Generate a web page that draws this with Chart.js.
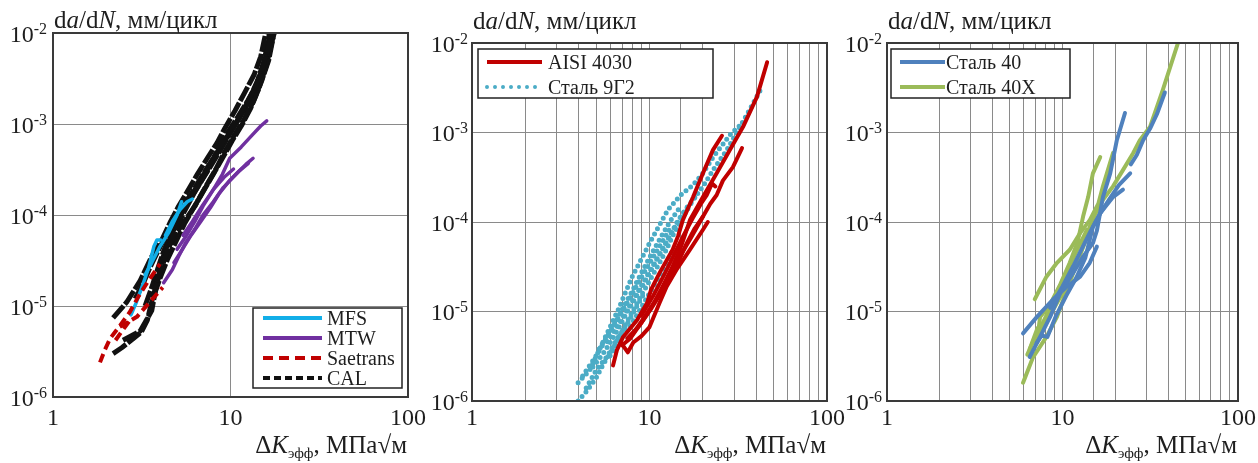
<!DOCTYPE html>
<html>
<head>
<meta charset="utf-8">
<script src="https://cdn.jsdelivr.net/npm/chart.js@4.4.1/dist/chart.umd.min.js"></script>
<style>
  body { margin: 0; background: #fff; width: 1258px; height: 463px; overflow: hidden; position: relative; }
  canvas { position: absolute; left: 0; top: 0; }
</style>
</head>
<body>
<canvas id="c1" width="1258" height="463"></canvas>
<canvas id="c2" width="1258" height="463"></canvas>
<canvas id="c3" width="1258" height="463"></canvas>
<script>
const FONT = '"Liberation Serif", "Times New Roman", serif';

// axis ticks (da/dN exponents and dK values)
const xTickVals = [1, 10, 100];
const yTickExps = [-2, -3, -4, -5, -6];

// ---- left: literature data, [dK, da/dN] ----
const mfs1 = [[2.75, 8e-6], [2.95, 1.1e-5], [3.2, 1.7e-5], [3.45, 2.6e-5], [3.7, 4.5e-5], [3.85, 5.3e-5], [4.05, 5.3e-5]];
const mfs2 = [[3.3, 2.2e-5], [3.6, 3.0e-5], [4.0, 4.5e-5], [4.5, 6.5e-5], [5.0, 1.0e-4], [5.3, 1.4e-4]];
const mfs3 = [[4.3, 6e-5], [4.7, 8.5e-5], [5.2, 1.15e-4], [5.7, 1.4e-4], [6.1, 1.5e-4]];

const mtw1 = [[4.2, 1.8e-5], [4.7, 2.5e-5], [5.1, 3.5e-5], [5.6, 5e-5], [6.3, 7e-5], [7.0, 1.0e-4], [8.0, 1.4e-4], [9.1, 2.0e-4], [10.9, 2.9e-4], [12.2, 3.6e-4], [13.4, 4.2e-4]];
const mtw2 = [[4.8, 3e-5], [5.4, 4.3e-5], [6.0, 6e-5], [6.8, 8.5e-5], [7.7, 1.2e-4], [8.6, 1.7e-4], [9.9, 2.4e-4], [11.3, 3.1e-4], [12.6, 3.7e-4]];
const mtw3 = [[5.0, 4.2e-5], [5.6, 5.8e-5], [6.3, 8.5e-5], [7.0, 1.25e-4], [8.0, 1.9e-4], [9.0, 2.8e-4], [9.9, 4.2e-4], [11.5, 5.6e-4], [13.2, 7.5e-4], [14.8, 9.5e-4], [16.0, 1.08e-3]];
const mtw4 = [[5.4, 6e-5], [6.1, 8.5e-5], [7.0, 1.3e-4], [8.0, 1.9e-4], [9.2, 2.6e-4], [10.4, 3.2e-4]];

const sae1 = [[1.84, 2.4e-6], [1.96, 3.3e-6], [2.1, 4.4e-6], [2.4, 6.2e-6], [2.7, 8.5e-6], [3.05, 1.3e-5], [3.45, 1.9e-5], [3.75, 2.4e-5], [4.0, 2.9e-5]];
const sae2 = [[2.38, 5.9e-6], [2.97, 7.6e-6], [3.5, 1.1e-5], [4.15, 1.6e-5]];
const sae3 = [[2.25, 4.2e-6], [2.5, 5.6e-6], [2.75, 7.2e-6]];

const cal1 = [[2.18, 3.0e-6], [2.45, 3.5e-6], [2.8, 4.3e-6], [3.15, 5.2e-6], [3.4, 7e-6], [3.55, 1e-5], [3.75, 1.5e-5], [4.0, 2.3e-5], [4.3, 3.5e-5], [4.6, 5e-5], [5.0, 7.5e-5], [5.5, 1.1e-4], [6.2, 1.7e-4], [7.2, 2.8e-4], [8.4, 5e-4], [9.6, 8e-4], [11.0, 1.2e-3], [12.5, 1.8e-3], [14.0, 2.7e-3], [15.2, 4.2e-3], [16.2, 6.5e-3], [17.2, 1e-2]];
const cal2 = [[2.18, 7.4e-6], [2.6, 1.1e-5], [3.1, 1.9e-5], [3.6, 3.5e-5], [4.1, 5.3e-5], [4.6, 8.5e-5], [5.1, 1.25e-4], [5.7, 1.8e-4], [6.5, 2.8e-4], [7.4, 4.2e-4], [8.4, 6.2e-4], [9.3, 9e-4], [10.6, 1.4e-3], [12.0, 2.2e-3], [13.6, 3.5e-3], [14.8, 5.5e-3], [15.8, 1e-2]];
const cal3 = [[2.48, 4.2e-6], [3.1, 5.3e-6], [3.6, 8.9e-6], [3.85, 1.8e-5], [4.1, 3e-5], [4.4, 4.6e-5], [4.8, 7e-5], [5.3, 1.05e-4], [5.9, 1.5e-4], [6.7, 2.2e-4], [7.7, 3.4e-4], [8.8, 5.2e-4], [10.0, 8e-4], [11.3, 1.2e-3], [12.8, 1.9e-3], [14.2, 3e-3], [15.5, 5e-3], [16.6, 1e-2]];
const cal4 = [[4.0, 3e-5], [4.5, 4.5e-5], [5.0, 6.5e-5], [5.6, 9e-5], [6.3, 1.25e-4], [7.2, 2e-4], [8.2, 3.1e-4], [9.2, 4.8e-4], [10.5, 7.5e-4], [12.0, 1.15e-3], [13.5, 1.8e-3], [15.0, 3e-3], [16.4, 5e-3], [17.6, 1e-2]];
const cal5 = [[2.9, 1.2e-5], [3.2, 1.7e-5], [3.5, 2.6e-5], [3.9, 4e-5], [4.3, 5.8e-5], [4.8, 8.5e-5], [5.4, 1.25e-4], [6.1, 1.8e-4], [7.0, 2.8e-4], [8.0, 4.2e-4], [9.0, 6e-4], [10.2, 8.8e-4], [11.6, 1.3e-3], [13.1, 2e-3], [14.6, 3.2e-3], [15.8, 5.2e-3], [16.9, 1e-2]];
const cal6 = [[3.3, 1.0e-5], [3.6, 1.6e-5], [3.9, 2.6e-5], [4.2, 4e-5], [4.6, 6e-5], [5.1, 9e-5], [5.7, 1.35e-4], [6.4, 2e-4], [7.3, 3.1e-4], [8.3, 4.6e-4], [9.4, 6.8e-4], [10.7, 1e-3], [12.2, 1.55e-3], [13.7, 2.4e-3], [15.0, 3.8e-3], [16.0, 6e-3], [16.8, 1e-2]];
const cal7 = [[3.7, 1.3e-5], [4.0, 2e-5], [4.4, 3.2e-5], [4.9, 5e-5], [5.5, 8e-5], [6.2, 1.2e-4], [7.0, 1.8e-4], [8.0, 2.8e-4], [9.0, 4.2e-4], [10.2, 6.5e-4], [11.5, 9.5e-4], [13.0, 1.5e-3], [14.5, 2.5e-3], [15.8, 4.2e-3], [16.8, 6.8e-3], [17.6, 1e-2]];

// ---- middle: AISI 4030 and Сталь 9Г2 ----
const aisi1 = [[6.23, 2.5e-6], [6.55, 3.7e-6], [7.1, 5.2e-6], [8.5, 8e-6], [9.7, 1.25e-5], [10.2, 1.75e-5], [11.4, 2.7e-5], [13.5, 4.9e-5], [14.5, 7e-5], [15.4, 1.05e-4], [17.6, 1.9e-4], [20.0, 3.5e-4], [22.8, 6.4e-4], [25.6, 9.2e-4]];
const aisi2 = [[6.9, 4.5e-6], [7.55, 3.5e-6], [8.1, 4.5e-6], [9.0, 5.3e-6], [10.0, 6.7e-6], [11.4, 1.25e-5], [12.5, 1.9e-5], [14.3, 3e-5], [16.9, 4.9e-5], [20.0, 8.2e-5], [21.3, 1e-4]];
const aisi3 = [[7.0, 4.2e-6], [7.8, 5.0e-6], [9.0, 7.5e-6], [10.5, 1.2e-5], [12.0, 2e-5], [13.5, 3.2e-5], [15.0, 5.2e-5], [16.9, 1.05e-4], [20.0, 1.9e-4], [23.9, 3.5e-4], [28.4, 6.4e-4], [33.6, 1.15e-3], [40.3, 2.5e-3], [46.0, 6.1e-3]];
const aisi4 = [[8.0, 5.5e-6], [9.3, 8.5e-6], [11.0, 1.4e-5], [12.5, 2.2e-5], [14.5, 3.8e-5], [17.0, 6.5e-5], [19.5, 1.05e-4], [22.0, 1.6e-4], [23.9, 2e-4], [25.9, 2.9e-4], [29.5, 4.1e-4], [33.2, 6.7e-4]];
const aisi5 = [[7.5, 5e-6], [8.8, 7e-6], [10.3, 1.1e-5], [12.0, 1.8e-5], [14.0, 3e-5], [16.0, 5.5e-5], [18.0, 8.5e-5], [20.0, 1.15e-4]];
const aisi6 = [[9.0, 9e-6], [10.5, 1.5e-5], [12.0, 2.5e-5], [13.5, 4e-5], [15.5, 7e-5], [17.5, 1.1e-4], [19.5, 1.6e-4], [21.0, 2e-4], [22.5, 2.7e-4], [23.5, 2.5e-4]];

const g9a = [[3.96, 1.0e-6], [4.44, 1.3e-6], [5.0, 1.8e-6], [5.5, 2.6e-6], [6.2, 3.8e-6], [7.0, 6e-6], [7.8, 9e-6], [8.8, 1.4e-5], [10.0, 2.2e-5], [11.4, 3.5e-5], [12.5, 5e-5], [13.5, 7e-5], [15.5, 1.15e-4], [17.6, 1.77e-4], [20.0, 2.5e-4], [22.8, 3.8e-4], [27.3, 6.4e-4], [31.0, 1e-3], [36.7, 1.8e-3], [43.0, 3.2e-3]];
const g9b = [[3.96, 1.6e-6], [4.6, 2.2e-6], [5.45, 4.5e-6], [6.64, 1.03e-5], [7.95, 2.4e-5], [10.0, 5.8e-5], [12.7, 1.37e-4], [15.0, 2e-4], [17.6, 2.6e-4], [20.0, 3.5e-4], [22.8, 5.3e-4], [28.4, 9.4e-4], [32.3, 1.2e-3]];
const g9c = [[4.8, 2.4e-6], [5.6, 3.6e-6], [6.4, 5.5e-6], [7.3, 9e-6], [8.3, 1.4e-5], [9.6, 2.3e-5], [11.0, 3.8e-5], [12.5, 6e-5], [14.0, 9e-5], [16.0, 1.4e-4], [18.5, 2e-4]];
const g9d = [[5.8, 4.6e-6], [6.8, 7.5e-6], [7.8, 1.2e-5], [8.8, 1.8e-5], [10.0, 2.8e-5], [11.5, 4.5e-5], [13.0, 7e-5], [14.5, 1.05e-4], [16.5, 1.5e-4]];
const g9e = [[4.4, 1.4e-6], [5.0, 2.2e-6], [5.8, 3.2e-6], [6.5, 4.8e-6], [7.4, 7e-6], [8.4, 1.1e-5], [9.5, 1.7e-5]];
const g9f = [[4.2, 1.9e-6], [4.9, 3e-6], [5.6, 4.6e-6], [6.3, 7e-6], [7.1, 1.1e-5], [8.0, 1.7e-5], [9.0, 2.7e-5], [10.2, 4.3e-5], [11.6, 6.8e-5], [13.2, 1.05e-4], [15.0, 1.5e-4]];
const g9g = [[5.2, 3.8e-6], [6.0, 6e-6], [6.9, 9.5e-6], [7.9, 1.5e-5], [9.0, 2.4e-5], [10.3, 3.8e-5], [11.8, 6e-5], [13.3, 9e-5]];
const g9h = [[6.0, 3.2e-6], [7.0, 5e-6], [8.0, 7.5e-6], [9.2, 1.2e-5], [10.5, 1.9e-5], [12.0, 3e-5], [13.5, 4.8e-5]];

// ---- right: Сталь 40 and Сталь 40Х ----
const s40a = [[5.96, 5.7e-6], [7.15, 8.7e-6], [8.85, 1.37e-5], [10.6, 1.9e-5], [12.6, 2.45e-5], [14.3, 3.5e-5], [15.7, 5.3e-5]];
const s40b = [[6.5, 3.1e-6], [7.45, 5.2e-6], [8.5, 8.7e-6], [9.7, 1.6e-5], [11.5, 2.7e-5], [13.1, 4.1e-5], [14.9, 5.8e-5], [15.7, 8e-5], [17.0, 1.9e-4], [18.7, 3.5e-4], [20.4, 8.2e-4], [22.7, 1.65e-3]];
const s40c = [[7.1, 4.4e-6], [7.6, 5.4e-6], [8.2, 5.2e-6], [9.2, 9e-6], [10.5, 1.5e-5], [12.0, 2.4e-5], [13.5, 4e-5], [14.9, 8.8e-5], [16.4, 1.25e-4], [19.4, 1.9e-4], [22.1, 2.3e-4]];
const s40d = [[8.5, 1.1e-5], [10.0, 1.9e-5], [11.5, 3.2e-5], [13.0, 5.2e-5], [14.5, 8e-5], [16.2, 1.2e-4], [18.5, 1.8e-4], [21.0, 2.6e-4], [24.3, 3.5e-4]];
const s40e = [[24.5, 4.4e-4], [26.5, 5.6e-4], [28.8, 8.2e-4], [31.5, 1.1e-3], [34.5, 1.6e-3], [38.3, 2.8e-3]];

const s40x1 = [[5.96, 1.6e-6], [6.8, 3.1e-6], [8.1, 5.2e-6], [9.3, 8.7e-6], [10.6, 1.75e-5], [12.1, 3.5e-5], [13.8, 6.8e-5], [14.9, 1.1e-4], [17.0, 1.77e-4], [19.4, 2.5e-4], [22.1, 3.8e-4], [25.3, 5.9e-4], [27.6, 8.2e-4], [31.5, 1.15e-3], [37.3, 3e-3], [45.5, 1e-2]];
const s40x2 = [[6.95, 1.37e-5], [8.1, 2.45e-5], [9.3, 3.5e-5], [11.0, 4.9e-5], [12.6, 7.5e-5], [14.3, 1.05e-4], [16.0, 1.6e-4], [17.0, 2.5e-4], [19.4, 5.9e-4]];
const s40x3 = [[7.15, 4.5e-6], [7.45, 8.7e-6], [8.5, 1.2e-5], [9.7, 2e-5], [11.0, 3.5e-5], [12.2, 6e-5], [13.1, 1.15e-4], [14.0, 1.9e-4], [14.9, 3.5e-4], [16.4, 5.3e-4]];
const s40x4 = [[6.3, 3.3e-6], [7.0, 5.2e-6], [7.8, 6.8e-6], [8.6, 9.5e-6], [9.8, 1.5e-5], [11.2, 2.6e-5], [12.7, 4.6e-5], [14.2, 8.5e-5], [15.5, 1.3e-4]];
const s40x5 = [[6.5, 3.8e-6], [7.2, 6.5e-6], [7.6, 7e-6], [8.3, 1.0e-5], [9.5, 1.8e-5], [10.8, 3e-5], [12.3, 5.2e-5], [13.8, 8.2e-5]];

const C = {
  mfs: '#12aee8', mtw: '#7030a0', red: '#c00000', cal: '#111111',
  teal: '#4bacc6', blue: '#4f81bd', green: '#9bbb59'
};

function line(pts, color, extra) {
  return Object.assign({
    data: pts.map(p => ({ x: p[0], y: p[1] })),
    showLine: true,
    borderColor: color,
    backgroundColor: color,
    borderWidth: 3.5,
    pointRadius: 0,
    tension: 0,
    borderJoinStyle: 'round',
    borderCapStyle: 'round',
    clip: 0
  }, extra || {});
}

const isDecade = v => Math.abs(Math.log10(v) - Math.round(Math.log10(v))) < 1e-6;

function scales(minorX) {
  const grid = minor => ({
    drawTicks: false,
    lineWidth: 1,
    color: c => (c.tick && (minor || isDecade(c.tick.value))) ? '#8a8a8a' : 'rgba(0,0,0,0)'
  });
  return {
    x: { type: 'logarithmic', min: 1, max: 100, ticks: { display: false }, border: { display: false }, grid: grid(minorX) },
    y: { type: 'logarithmic', min: 1e-6, max: 1e-2, ticks: { display: false }, border: { display: false }, grid: grid(false) }
  };
}

// draws runs of text with per-run font and baseline shift
function runs(ctx, parts, x, y) {
  parts.forEach(p => {
    ctx.font = p[1];
    ctx.fillText(p[0], x, y + (p[2] || 0));
    x += ctx.measureText(p[0]).width;
  });
  return x;
}
function runsWidth(ctx, parts) {
  let w = 0;
  parts.forEach(p => { ctx.font = p[1]; w += ctx.measureText(p[0]).width; });
  return w;
}

const deco = {
  id: 'deco',
  afterDraw(chart, args, o) {
    const ctx = chart.ctx, a = chart.chartArea;
    const xs = chart.scales.x, ys = chart.scales.y;
    ctx.save();
    ctx.strokeStyle = '#3a3a3a';
    ctx.lineWidth = 2;
    ctx.strokeRect(a.left, a.top, a.right - a.left, a.bottom - a.top);

    ctx.fillStyle = '#1e1e1e';
    ctx.textBaseline = 'alphabetic';
    ctx.textAlign = 'left';

    // y tick labels 10^n
    yTickExps.forEach(e => {
      const y = ys.getPixelForValue(Math.pow(10, e));
      const sup = '-' + Math.abs(e);
      ctx.font = '16px ' + FONT;
      const sw = ctx.measureText(sup).width;
      ctx.font = '24px ' + FONT;
      const mw = ctx.measureText('10').width;
      const sx = a.left - o.supGap - sw;
      ctx.fillText('10', sx - mw, y + 8.5);
      ctx.font = '16px ' + FONT;
      ctx.fillText(sup, sx, y + 0.5);
    });

    // x tick labels
    ctx.textAlign = 'center';
    ctx.font = '24px ' + FONT;
    xTickVals.forEach(v => ctx.fillText(String(v), xs.getPixelForValue(v), 425));
    ctx.textAlign = 'left';

    // y axis title
    const it = 'italic 25px ' + FONT, rg = '25px ' + FONT;
    runs(ctx, [['d', rg], ['a', it], ['/d', rg], ['N', it], [', мм/цикл', rg]], a.left + 1, o.titleY);

    // x axis title
    const xt = [['Δ', rg], ['K', it], ['эфф', '15px ' + FONT, 5], [', МПа√м', rg]];
    runs(ctx, xt, a.right - runsWidth(ctx, xt) - 1, 453);

    // legend
    const L = o.legend;
    ctx.fillStyle = '#fff';
    ctx.fillRect(L.box[0], L.box[1], L.box[2] - L.box[0], L.box[3] - L.box[1]);
    ctx.strokeStyle = '#222';
    ctx.lineWidth = 1.5;
    ctx.strokeRect(L.box[0], L.box[1], L.box[2] - L.box[0], L.box[3] - L.box[1]);
    L.items.forEach((it2, i) => {
      const y = L.y0 + i * L.step;
      ctx.save();
      ctx.strokeStyle = it2.color;
      ctx.lineWidth = it2.width || 4;
      ctx.lineCap = it2.dots ? 'round' : 'butt';
      ctx.setLineDash(it2.dash || []);
      ctx.beginPath();
      ctx.moveTo(L.sample[0], y);
      ctx.lineTo(L.sample[1], y);
      ctx.stroke();
      ctx.restore();
      ctx.fillStyle = '#1e1e1e';
      ctx.font = '20px ' + FONT;
      ctx.fillText(it2.label, L.textX, y + 7);
    });
    ctx.restore();
  }
};

function makeChart(id, datasets, padding, minorX, deco_opts) {
  return new Chart(document.getElementById(id), {
    type: 'scatter',
    data: { datasets },
    options: {
      responsive: false,
      animation: false,
      events: [],
      devicePixelRatio: 1,
      layout: { padding },
      scales: scales(minorX),
      plugins: { legend: { display: false }, tooltip: { enabled: false }, deco: deco_opts }
    },
    plugins: [deco]
  });
}

const calDash = { borderDash: [16, 2], borderCapStyle: 'butt', borderWidth: 5 };
const saeDash = { borderDash: [9, 5], borderCapStyle: 'butt', borderWidth: 4 };
const mtwLine = { borderWidth: 3.5 };

makeChart('c1', [
  line(sae1, C.red, saeDash), line(sae2, C.red, saeDash), line(sae3, C.red, saeDash),
  line(mtw1, C.mtw, mtwLine), line(mtw2, C.mtw, mtwLine),
  line(mtw3, C.mtw, mtwLine), line(mtw4, C.mtw, mtwLine),
  line(mfs1, C.mfs), line(mfs2, C.mfs), line(mfs3, C.mfs),
  line(cal1, C.cal, calDash), line(cal2, C.cal, calDash), line(cal3, C.cal, calDash),
  line(cal4, C.cal, calDash), line(cal5, C.cal, calDash), line(cal6, C.cal, calDash),
  line(cal7, C.cal, calDash)
], { left: 53, right: 850, top: 33, bottom: 66 }, false, {
  supGap: 6, titleY: 28,
  legend: {
    box: [253, 308, 402, 388], sample: [263, 322], textX: 327, y0: 318, step: 20,
    items: [
      { label: 'MFS', color: C.mfs },
      { label: 'MTW', color: C.mtw },
      { label: 'Saetrans', color: C.red, dash: [10, 6] },
      { label: 'CAL', color: C.cal, dash: [7, 4] }
    ]
  }
});

const dots = { borderDash: [0, 6], borderCapStyle: 'round', borderWidth: 5 };
const red4 = { borderWidth: 4 };
makeChart('c2', [
  line(aisi1, C.red, red4), line(aisi2, C.red, red4), line(aisi3, C.red, red4),
  line(aisi4, C.red, red4), line(aisi5, C.red, red4), line(aisi6, C.red, red4),
  line(g9a, C.teal, dots), line(g9b, C.teal, dots), line(g9c, C.teal, dots),
  line(g9d, C.teal, dots), line(g9e, C.teal, dots), line(g9f, C.teal, dots),
  line(g9g, C.teal, dots), line(g9h, C.teal, dots)
], { left: 472, right: 431, top: 43, bottom: 62 }, true, {
  supGap: 4, titleY: 29,
  legend: {
    box: [478, 49, 713, 98], sample: [487, 542], textX: 548, y0: 62, step: 25,
    items: [
      { label: 'AISI 4030', color: C.red },
      { label: 'Сталь 9Г2', color: C.teal, dash: [0, 8], dots: true }
    ]
  }
});

const w4 = { borderWidth: 4 };
makeChart('c3', [
  line(s40a, C.blue, w4), line(s40b, C.blue, w4), line(s40c, C.blue, w4),
  line(s40d, C.blue, w4), line(s40e, C.blue, w4),
  line(s40x1, C.green, w4), line(s40x2, C.green, w4), line(s40x3, C.green, w4),
  line(s40x4, C.green, w4), line(s40x5, C.green, w4)
], { left: 887, right: 20, top: 43, bottom: 62 }, true, {
  supGap: 5, titleY: 29,
  legend: {
    box: [891, 49, 1070, 98], sample: [900, 945], textX: 946, y0: 62, step: 25,
    items: [
      { label: 'Сталь 40', color: C.blue },
      { label: 'Сталь 40Х', color: C.green }
    ]
  }
});
</script>
</body>
</html>
